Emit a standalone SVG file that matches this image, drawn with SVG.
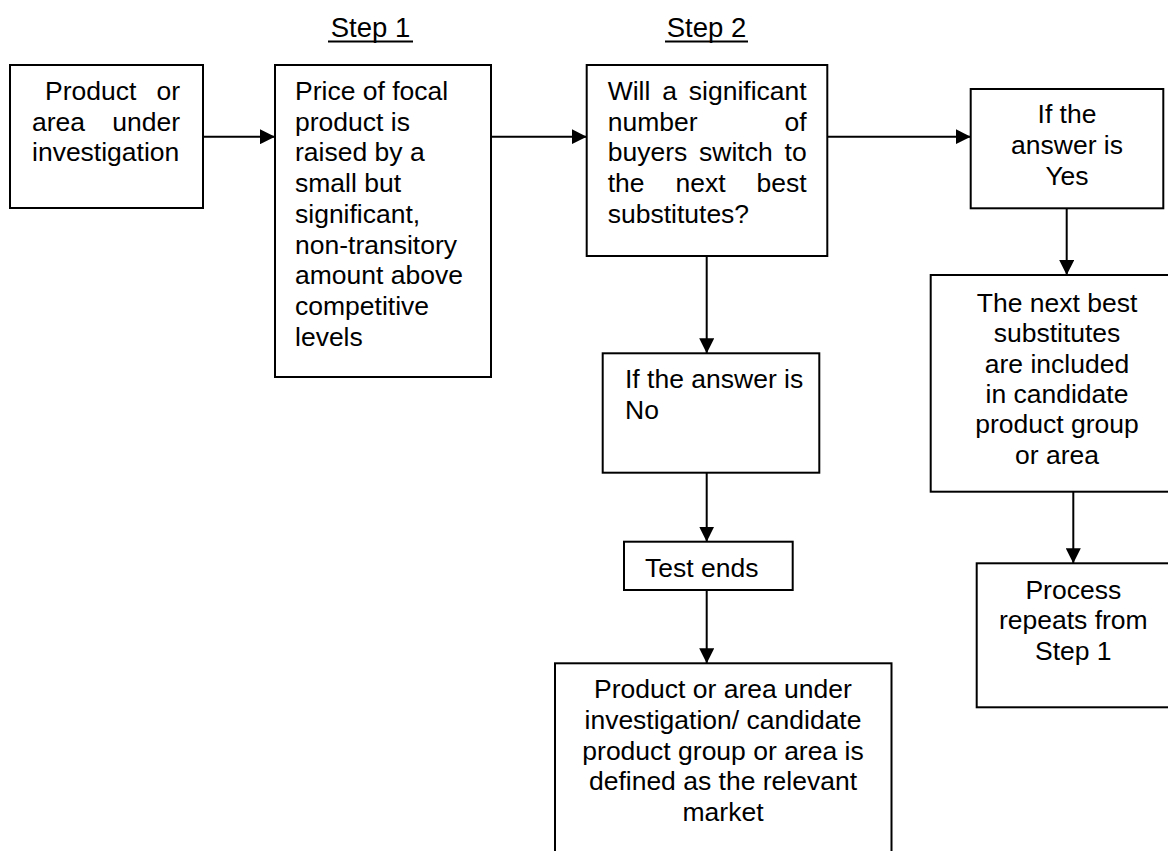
<svg xmlns="http://www.w3.org/2000/svg" width="1168" height="851" viewBox="0 0 1168 851">
<style>
  .box { fill: #ffffff; stroke: #000000; stroke-width: 2; }
  .t { font-family: "Liberation Sans", Arial, sans-serif; font-size: 26.5px; fill: #000000; }
  .c { text-anchor: middle; }
  .e { text-anchor: end; }
  .step { font-family: "Liberation Sans", Arial, sans-serif; font-size: 27.5px; fill: #000000; text-anchor: middle; }
  .ul { stroke: #000000; stroke-width: 2.2; }
  .conn { stroke: #000000; stroke-width: 2; fill: none; marker-end: url(#ah); }
</style>
<defs>
  <marker id="ah" markerUnits="userSpaceOnUse" markerWidth="15" markerHeight="15" refX="15" refY="7.5" orient="auto">
    <path d="M0,0 L15,7.5 L0,15 z" fill="#000000"/>
  </marker>
</defs>
<rect width="1168" height="851" fill="#ffffff"/>

<g id="step1-label">
  <text class="step" x="370.5" y="37">Step 1</text>
  <line class="ul" x1="328" y1="41.5" x2="413" y2="41.5"/>
</g>
<g id="step2-label">
  <text class="step" x="706.5" y="37">Step 2</text>
  <line class="ul" x1="665" y1="41.5" x2="748" y2="41.5"/>
</g>

<g id="connectors">
  <line class="conn" x1="203" y1="136.7" x2="275" y2="136.7"/>
  <line class="conn" x1="491" y1="136.7" x2="586.7" y2="136.7"/>
  <line class="conn" x1="827.3" y1="136.7" x2="970.7" y2="136.7"/>
  <line class="conn" x1="706.7" y1="256" x2="706.7" y2="353.3"/>
  <line class="conn" x1="706.7" y1="472.7" x2="706.7" y2="541.7"/>
  <line class="conn" x1="706.7" y1="590" x2="706.7" y2="663.3"/>
  <line class="conn" x1="1066.7" y1="208.3" x2="1066.7" y2="275"/>
  <line class="conn" x1="1073.3" y1="491.7" x2="1073.3" y2="563.3"/>
</g>

<g id="node-product">
  <rect class="box" x="10" y="65" width="193" height="143"/>
  <text class="t" x="45" y="100">Product</text>
  <text class="t e" x="180" y="100">or</text>
  <text class="t" x="32" y="130.7">area</text>
  <text class="t e" x="180" y="130.7">under</text>
  <text class="t" x="32" y="161.4">investigation</text>
</g>

<g id="node-price">
  <rect class="box" x="275" y="65" width="216" height="312"/>
  <text class="t" x="295" y="100">Price of focal</text>
  <text class="t" x="295" y="130.7">product is</text>
  <text class="t" x="295" y="161.4">raised by a</text>
  <text class="t" x="295" y="192.1">small but</text>
  <text class="t" x="295" y="222.8">significant,</text>
  <text class="t" x="295" y="253.5">non-transitory</text>
  <text class="t" x="295" y="284.2">amount above</text>
  <text class="t" x="295" y="314.9">competitive</text>
  <text class="t" x="295" y="345.6">levels</text>
</g>

<g id="node-question">
  <rect class="box" x="586.7" y="65" width="240.6" height="191"/>
  <text class="t" x="607.7" y="100">Will</text>
  <text class="t" x="662.3" y="100">a</text>
  <text class="t e" x="806.7" y="100">significant</text>
  <text class="t" x="607.7" y="130.7">number</text>
  <text class="t e" x="806.7" y="130.7">of</text>
  <text class="t" x="607.7" y="161.4">buyers</text>
  <text class="t" x="699.1" y="161.4">switch</text>
  <text class="t e" x="806.7" y="161.4">to</text>
  <text class="t" x="607.7" y="192.1">the</text>
  <text class="t" x="675.5" y="192.1">next</text>
  <text class="t e" x="806.7" y="192.1">best</text>
  <text class="t" x="607.7" y="222.8">substitutes?</text>
</g>

<g id="node-yes">
  <rect class="box" x="970.7" y="89" width="192.6" height="119.3"/>
  <text class="t c" x="1067" y="123.3">If the</text>
  <text class="t c" x="1067" y="154">answer is</text>
  <text class="t c" x="1067" y="184.7">Yes</text>
</g>

<g id="node-no">
  <rect class="box" x="602.7" y="353.3" width="216.6" height="119.4"/>
  <text class="t" x="625" y="388.3">If the answer is</text>
  <text class="t" x="625" y="418.7">No</text>
</g>

<g id="node-test-ends">
  <rect class="box" x="624" y="541.7" width="168.7" height="48.3"/>
  <text class="t" x="645" y="576.7">Test ends</text>
</g>

<g id="node-relevant-market">
  <rect class="box" x="555" y="663.3" width="336.5" height="210"/>
  <text class="t c" x="723" y="698.3">Product or area under</text>
  <text class="t c" x="723" y="729">investigation/ candidate</text>
  <text class="t c" x="723" y="759.7">product group or area is</text>
  <text class="t c" x="723" y="790.4">defined as the relevant</text>
  <text class="t c" x="723" y="821.1">market</text>
</g>

<g id="node-included">
  <rect class="box" x="930.7" y="275" width="252" height="216.7"/>
  <text class="t c" x="1057" y="311.7">The next best</text>
  <text class="t c" x="1057" y="342.1">substitutes</text>
  <text class="t c" x="1057" y="372.5">are included</text>
  <text class="t c" x="1057" y="402.9">in candidate</text>
  <text class="t c" x="1057" y="433.3">product group</text>
  <text class="t c" x="1057" y="463.7">or area</text>
</g>

<g id="node-repeat">
  <rect class="box" x="976.7" y="563.3" width="193" height="144"/>
  <text class="t c" x="1073.3" y="598.7">Process</text>
  <text class="t c" x="1073.3" y="629.3">repeats from</text>
  <text class="t c" x="1073.3" y="660">Step 1</text>
</g>
</svg>
